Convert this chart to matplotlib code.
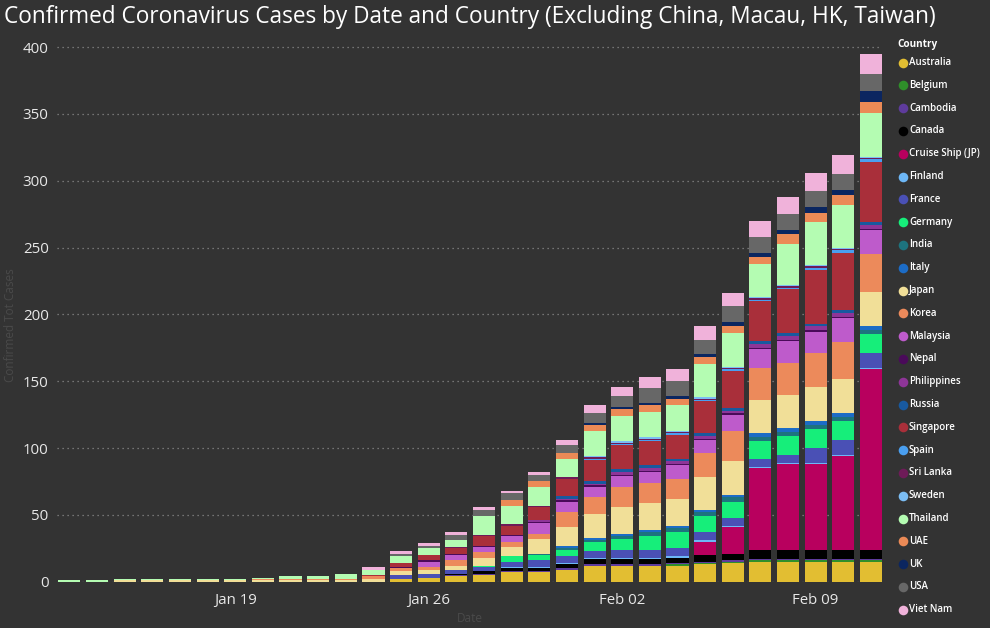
import matplotlib
matplotlib.use("Agg")
import matplotlib.pyplot as plt
import numpy as np

# ---------------- data ----------------
dates = ["Jan 13", "Jan 14", "Jan 15", "Jan 16", "Jan 17", "Jan 18", "Jan 19", "Jan 20", "Jan 21", "Jan 22",
         "Jan 23", "Jan 24", "Jan 25", "Jan 26", "Jan 27", "Jan 28", "Jan 29", "Jan 30", "Jan 31", "Feb 01",
         "Feb 02", "Feb 03", "Feb 04", "Feb 05", "Feb 06", "Feb 07", "Feb 08", "Feb 09", "Feb 10", "Feb 11"]
tick_labels = ["Jan 19", "Jan 26", "Feb 02", "Feb 09"]

countries = ["Australia", "Belgium", "Cambodia", "Canada", "Cruise Ship (JP)", "Finland", "France",
             "Germany", "India", "Italy", "Japan", "Korea", "Malaysia", "Nepal", "Philippines", "Russia",
             "Singapore", "Spain", "Sri Lanka", "Sweden", "Thailand", "UAE", "UK", "USA", "Viet Nam"]

australia   = [0,0,0,0,0,0,0,0,0,0,  0,0,2,3,4,5,7,7,9,12,   12,12,12,13,14,15,15,15,15,15]
belgium     = [0,0,0,0,0,0,0,0,0,0,  0,0,0,0,0,0,0,0,0,0,    0,0,1,1,1,1,1,1,1,1]
cambodia    = [0,0,0,0,0,0,0,0,0,0,  0,0,0,0,1,1,1,1,1,1,    1,1,1,1,1,1,1,1,1,1]
canada      = [0,0,0,0,0,0,0,0,0,0,  0,0,0,0,1,2,2,2,3,4,    4,4,4,5,5,7,7,7,7,7]
cruise_ship = [0,0,0,0,0,0,0,0,0,0,  0,0,0,0,0,0,0,0,0,0,    0,0,0,10,20,61,64,64,70,135]
finland     = [0,0,0,0,0,0,0,0,0,0,  0,0,0,0,0,0,1,1,1,1,    1,1,1,1,1,1,1,1,1,1]
france      = [0,0,0,0,0,0,0,0,0,0,  0,0,3,3,3,3,4,5,5,5,    6,6,6,6,6,6,6,11,11,11]
germany     = [0,0,0,0,0,0,0,0,0,0,  0,0,0,0,0,1,4,4,5,7,    8,10,12,12,12,13,14,14,14,14]
india       = [0,0,0,0,0,0,0,0,0,0,  0,0,0,0,0,0,0,1,1,1,    2,3,3,3,3,3,3,3,3,3]
italy       = [0,0,0,0,0,0,0,0,0,0,  0,0,0,0,0,0,0,0,2,2,    2,2,2,2,2,3,3,3,3,3]
japan       = [0,0,1,1,1,1,1,1,1,1,  1,2,3,3,3,6,7,11,14,18, 20,20,20,24,25,25,25,26,26,26]
korea       = [0,0,0,0,0,0,0,1,1,1,  1,2,2,2,4,4,4,4,11,12,  15,15,15,18,23,24,24,25,27,28]
malaysia    = [0,0,0,0,0,0,0,0,0,0,  0,0,0,4,4,4,4,8,8,8,    8,8,10,10,12,14,16,16,18,18]
nepal       = [0,0,0,0,0,0,0,0,0,0,  0,0,1,1,1,1,1,1,1,1,    1,1,1,1,1,1,1,1,1,1]
philippines = [0,0,0,0,0,0,0,0,0,0,  0,0,0,0,0,0,0,1,1,1,    2,2,2,2,2,3,3,3,3,3]
russia      = [0,0,0,0,0,0,0,0,0,0,  0,0,0,0,0,0,0,0,2,2,    2,2,2,2,2,2,2,2,2,2]
singapore   = [0,0,0,0,0,0,0,0,0,0,  0,1,3,4,4,7,7,10,13,16, 18,18,18,24,28,30,33,40,43,45]
spain       = [0,0,0,0,0,0,0,0,0,0,  0,0,0,0,0,0,0,0,0,1,    1,1,1,1,1,1,1,2,2,2]
sri_lanka   = [0,0,0,0,0,0,0,0,0,0,  0,0,0,0,1,1,1,1,1,1,    1,1,1,1,1,1,1,1,1,1]
sweden      = [0,0,0,0,0,0,0,0,0,0,  0,0,0,0,0,0,0,0,0,1,    1,1,1,1,1,1,1,1,1,1]
thailand    = [1,1,1,1,1,1,1,1,2,2,  4,4,5,5,5,14,14,14,14,19, 19,19,19,25,25,25,31,32,32,33]
uae         = [0,0,0,0,0,0,0,0,0,0,  0,0,0,0,0,0,4,4,4,4,    5,5,5,5,5,5,7,7,7,8]
uk          = [0,0,0,0,0,0,0,0,0,0,  0,0,0,0,0,0,0,0,0,2,    2,2,2,2,3,3,3,4,4,8]
usa         = [0,0,0,0,0,0,0,0,0,0,  0,0,2,2,4,5,5,5,6,7,    8,11,11,11,12,12,12,12,12,13]
viet_nam    = [0,0,0,0,0,0,0,0,0,0,  0,2,2,2,2,2,2,2,4,6,    7,8,9,10,10,12,13,14,14,15]

series = [australia, belgium, cambodia, canada, cruise_ship, finland, france, germany, india, italy,
          japan, korea, malaysia, nepal, philippines, russia, singapore, spain, sri_lanka, sweden,
          thailand, uae, uk, usa, viet_nam]

colors = ["#E2BE32", "#2F8F2A", "#5E3B9C", "#000000", "#B8005E", "#6DB7F6", "#4A50B5",
          "#16EE7A", "#1D737E", "#1C6CC6", "#F1DF98", "#EC8A5B", "#BE5BCB", "#4A0A5A", "#8E3598",
          "#18599F", "#A92F3A", "#4A9FF0", "#6E1B58", "#7BBDF4", "#B4FCB2", "#EB8A56", "#0B2660",
          "#676767", "#F0B2DA"]

# ---------------- figure ----------------
BG = "#333333"
FONT = ["Open Sans", "DejaVu Sans"]
plt.rcParams["font.family"] = FONT

W, H = 990, 628
fig = plt.figure(figsize=(W / 100, H / 100), dpi=100, facecolor=BG)

ax_left, ax_right = 57, 882
ax_bottom_px, ax_top_px = 581.7, 40.4
ax = fig.add_axes([ax_left / W, (H - ax_bottom_px) / H, (ax_right - ax_left) / W,
                   (ax_bottom_px - ax_top_px) / H])
ax.set_facecolor(BG)

x = np.arange(len(dates))
bottom = np.zeros(len(dates))
for vals, col in zip(series, colors):
    v = np.array(vals, dtype=float)
    ax.bar(x, v, bottom=bottom, width=0.8, color=col, linewidth=0, zorder=3)
    bottom += v

ax.set_xlim(-0.45, 29.4)
ax.set_ylim(0, 405)
ax.set_yticks(np.arange(0, 401, 50))
ax.set_xticks([dates.index(t) for t in tick_labels])
ax.set_xticklabels(tick_labels)
ax.yaxis.grid(True, linestyle=(0, (1, 3)), color="#8a8a8a", linewidth=0.9, zorder=0)
ax.xaxis.grid(False)
ax.set_axisbelow(True)
for s in ax.spines.values():
    s.set_visible(False)
ax.tick_params(axis="both", length=0, colors="#E8E8E8", labelsize=10.8)
ax.tick_params(axis="y", pad=6)
ax.tick_params(axis="x", pad=8)

# axis titles (dim)
fig.text(11 / W, (H - 325) / H, "Confirmed Tot Cases", rotation=90, ha="center", va="center",
         color="#4a4a4a", fontsize=8.5)
fig.text(470 / W, (H - 619) / H, "Date", ha="center", va="center", color="#4a4a4a", fontsize=8.5)

# title
fig.text(4 / W, (H - 17) / H,
         "Confirmed Coronavirus Cases by Date and Country (Excluding China, Macau, HK, Taiwan)",
         ha="left", va="center", color="#FFFFFF", fontsize=16.3)

# legend (manual, pixel layout)
lax = fig.add_axes([0, 0, 1, 1])
lax.set_xlim(0, W)
lax.set_ylim(H, 0)
lax.axis("off")
lax.patch.set_alpha(0)
lax.text(897, 44, "Country", ha="left", va="center", color="#FFFFFF", fontsize=7.2, fontweight="bold")
for i, (name, col) in enumerate(zip(countries, colors)):
    yy = 62.5 + i * 22.8
    lax.scatter([903], [yy], s=48, color=col, linewidths=0)
    lax.text(909, yy, name, ha="left", va="center", color="#FFFFFF", fontsize=7.0,
             fontweight="semibold")

fig.savefig("out.png", dpi=100, facecolor=BG)
